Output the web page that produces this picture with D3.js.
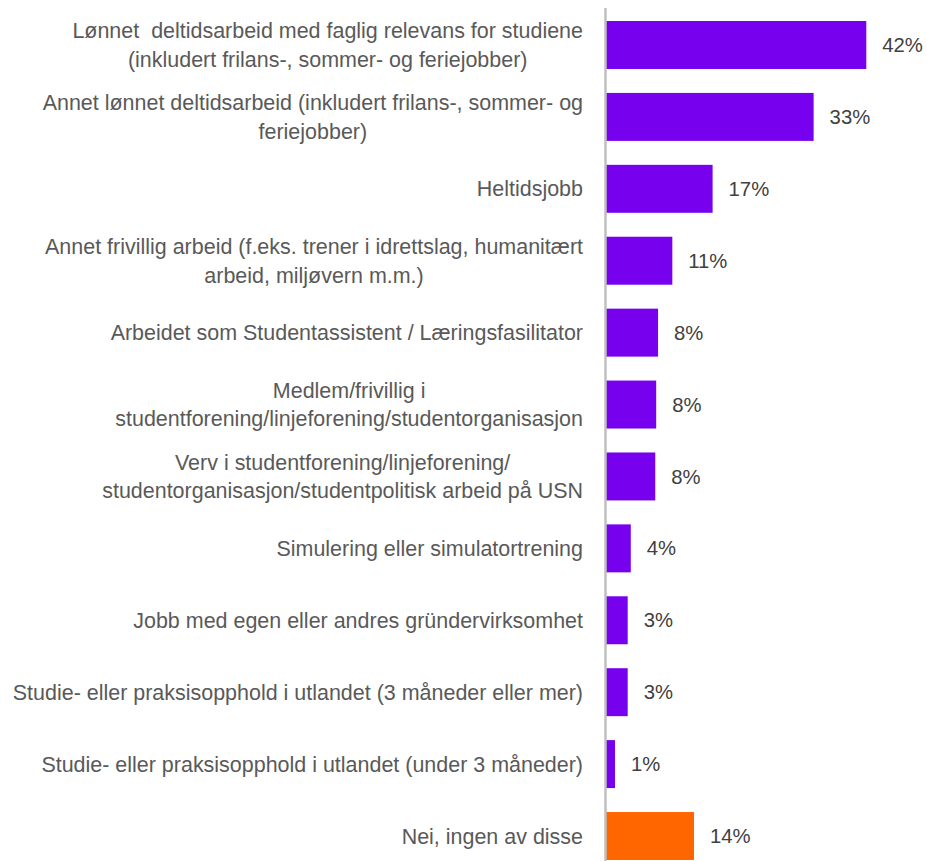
<!DOCTYPE html>
<html><head><meta charset="utf-8">
<script src="https://cdn.jsdelivr.net/npm/d3@7"></script>
<style>body{margin:0;background:#fff}svg{display:block}text{white-space:pre}</style>
</head><body>
<script>
const categories = [
  "Lønnet  deltidsarbeid med faglig relevans for studiene\n(inkludert frilans-, sommer- og feriejobber)",
  "Annet lønnet deltidsarbeid (inkludert frilans-, sommer- og\nferiejobber)",
  "Heltidsjobb",
  "Annet frivillig arbeid (f.eks. trener i idrettslag, humanitært\narbeid, miljøvern m.m.)",
  "Arbeidet som Studentassistent / Læringsfasilitator",
  "Medlem/frivillig i\nstudentforening/linjeforening/studentorganisasjon",
  "Verv i studentforening/linjeforening/\nstudentorganisasjon/studentpolitisk arbeid på USN",
  "Simulering eller simulatortrening",
  "Jobb med egen eller andres gründervirksomhet",
  "Studie- eller praksisopphold i utlandet (3 måneder eller mer)",
  "Studie- eller praksisopphold i utlandet (under 3 måneder)",
  "Nei, ingen av disse"
];
const values = [42.0, 33.5, 17.2, 10.7, 8.4, 8.1, 7.95, 4.0, 3.5, 3.5, 1.45, 14.2];
const valueLabels = ["42%","33%","17%","11%","8%","8%","8%","4%","3%","3%","1%","14%"];
const colors = ["#7700EE","#7700EE","#7700EE","#7700EE","#7700EE","#7700EE","#7700EE","#7700EE","#7700EE","#7700EE","#7700EE","#FF6600"];

const W = 927, H = 861;
const x0 = 606;
const svg = d3.select("body").append("svg").attr("width", W).attr("height", H);

const x = d3.scaleLinear().domain([0, 42]).range([x0, 866.3]);
const y = d3.scaleBand().domain(d3.range(categories.length)).range([9, 872]).paddingInner(0.333).paddingOuter(0.167);

const g = svg.append("g");
g.selectAll("rect").data(values).join("rect")
  .attr("x", x(0))
  .attr("y", (d,i) => y(i))
  .attr("width", d => x(d) - x(0))
  .attr("height", y.bandwidth())
  .attr("fill", (d,i) => colors[i]);

// axis line
svg.append("line").attr("x1", x0-0.5).attr("x2", x0-0.5).attr("y1", 8).attr("y2", 861)
  .attr("stroke", "#BFBFBF").attr("stroke-width", 2.5);

// value labels
g.selectAll("text.val").data(values).join("text").attr("class","val")
  .attr("x", d => x(d) + 16)
  .attr("y", (d,i) => y(i) + y.bandwidth()/2)
  .attr("dy", "0.35em")
  .attr("font-family", "Liberation Sans, Arial, sans-serif")
  .attr("font-size", 20.3)
  .attr("fill", "#404040")
  .text((d,i) => valueLabels[i]);

// category labels: block right-aligned at 583, lines centred within block
const lineH = 28.5;
const scaleX = 0.985;
const rightEdge = 583;
categories.forEach((c, i) => {
  const lines = c.split("\n");
  const cy = y(i) + y.bandwidth()/2;
  const gg = svg.append("g").attr("transform", `translate(${rightEdge},0) scale(${scaleX},1)`);
  const texts = lines.map((ln, j) => gg.append("text")
      .attr("y", cy + (j - (lines.length-1)/2) * lineH)
      .attr("dy", "0.35em")
      .attr("text-anchor", "middle")
      .attr("font-family", "Liberation Sans, Arial, sans-serif")
      .attr("font-size", 21.8)
      .attr("fill", "#595959")
      .text(ln));
  const maxW = d3.max(texts, t => t.node().getComputedTextLength());
  texts.forEach(t => t.attr("x", -maxW/2));
});
</script>
</body></html>
